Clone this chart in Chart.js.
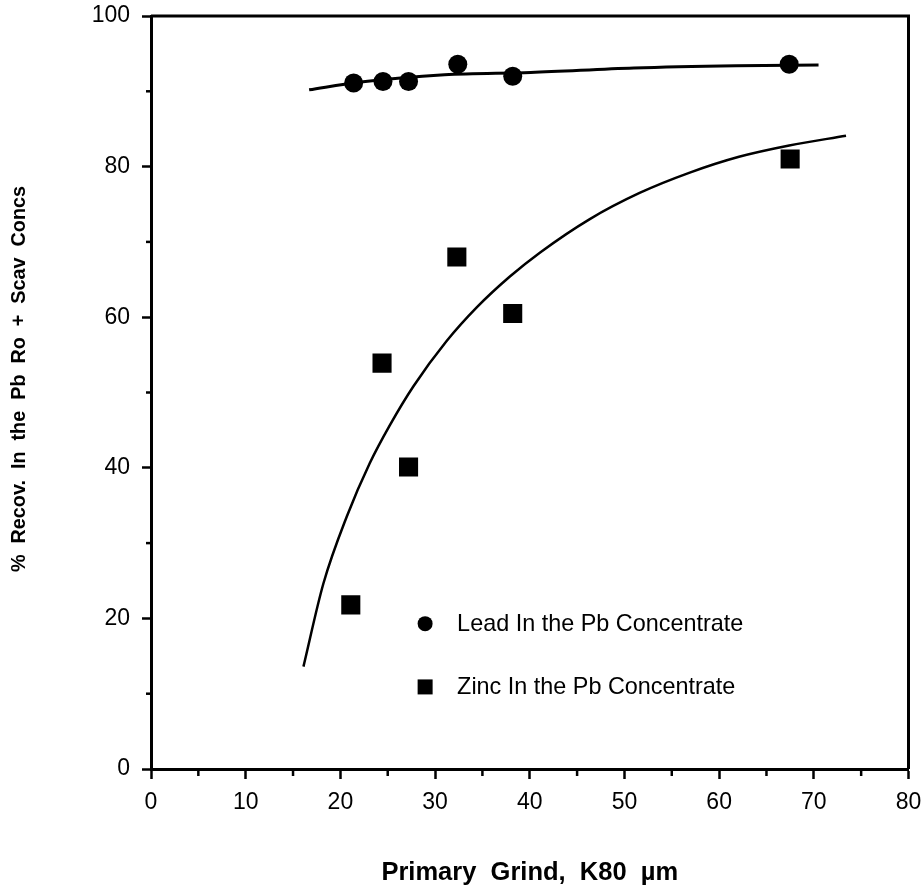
<!DOCTYPE html>
<html>
<head>
<meta charset="utf-8">
<script src="https://cdn.jsdelivr.net/npm/chart.js@4.4.1/dist/chart.umd.min.js"></script>
<style>
  html, body { margin: 0; padding: 0; background: #fff; }
  #wrap { width: 922px; height: 891px; }
</style>
</head>
<body>
<div id="wrap"><canvas id="chart" width="922" height="891"></canvas></div>
<script>
// measured points
const leadX = [21.4, 24.5, 27.2, 32.4, 38.2, 67.4];
const leadY = [91.1, 91.3, 91.3, 93.6, 92.0, 93.6];
const zincX = [21.1, 24.4, 27.2, 32.3, 38.2, 67.5];
const zincY = [21.8, 53.9, 40.1, 68.0, 60.5, 81.0];

// fitted curves
const leadFitX = [16.7, 21.9, 31.0, 40.1, 51.0, 61.8, 70.5];
const leadFitY = [90.2, 91.2, 92.2, 92.5, 93.1, 93.4, 93.5];
const zincFitX = [16.1, 18.2, 20.7, 23.1, 25.2, 27.7, 31.2, 34.4, 37.9, 41.1, 46.3, 51.6, 56.9, 62.1, 67.4, 73.4];
const zincFitY = [13.6, 24.6, 33.6, 40.6, 45.6, 50.8, 56.8, 61.3, 65.4, 68.6, 73.0, 76.5, 79.2, 81.3, 82.8, 84.1];

const xTicks = [0, 10, 20, 30, 40, 50, 60, 70, 80];
const yTicks = [0, 20, 40, 60, 80, 100];
const xMinor = [5, 15, 25, 35, 45, 55, 65, 75];
const yMinor = [10, 30, 50, 70, 90];

const legendItems = ['Lead In the Pb Concentrate', 'Zinc In the Pb Concentrate'];
const xTitle = 'Primary  Grind,  K80  µm';
const yTitle = '%  Recov.  In  the  Pb  Ro  +  Scav  Concs';

const FONT = "'Liberation Sans', Arial, Helvetica, sans-serif";

const toPts = (xs, ys) => xs.map((x, i) => ({ x: x, y: ys[i] }));

// top/right frame, minor ticks, y title and the legend
const extras = {
    id: 'extras',
    afterDraw(chart) {
        const ctx = chart.ctx;
        const a = chart.chartArea;
        const sx = chart.scales.x;
        const sy = chart.scales.y;
        ctx.save();
        ctx.strokeStyle = '#000';
        ctx.lineWidth = 3;
        ctx.beginPath();
        ctx.moveTo(a.left, a.top);
        ctx.lineTo(a.right, a.top);
        ctx.lineTo(a.right, a.bottom);
        ctx.stroke();

        ctx.lineWidth = 2.5;
        xMinor.forEach(v => {
            const px = sx.getPixelForValue(v);
            ctx.beginPath();
            ctx.moveTo(px, a.bottom);
            ctx.lineTo(px, a.bottom + 7);
            ctx.stroke();
        });
        yMinor.forEach(v => {
            const py = sy.getPixelForValue(v);
            ctx.beginPath();
            ctx.moveTo(a.left, py);
            ctx.lineTo(a.left - 5, py);
            ctx.stroke();
        });

        ctx.fillStyle = '#000';

        // y axis title
        ctx.save();
        ctx.translate(20, 379);
        ctx.rotate(-Math.PI / 2);
        ctx.font = 'bold 19.8px ' + FONT;
        ctx.textAlign = 'center';
        ctx.textBaseline = 'middle';
        ctx.fillText(yTitle, 0, 0);
        ctx.restore();

        // legend
        const lx = sx.getPixelForValue(28.95);
        const ly1 = sy.getPixelForValue(19.3);
        const ly2 = sy.getPixelForValue(10.9);
        ctx.beginPath();
        ctx.arc(lx, ly1, 7.5, 0, Math.PI * 2);
        ctx.fill();
        ctx.fillRect(lx - 7.5, ly2 - 7.5, 15, 15);
        ctx.font = '23.4px ' + FONT;
        ctx.textBaseline = 'middle';
        ctx.textAlign = 'left';
        ctx.fillText(legendItems[0], lx + 32, ly1 + 1);
        ctx.fillText(legendItems[1], lx + 32, ly2 + 1);
        ctx.restore();
    }
};

const ctx = document.getElementById('chart').getContext('2d');
const chart = new Chart(ctx, {
    type: 'scatter',
    data: {
        datasets: [{
            label: 'Lead fit',
            data: toPts(leadFitX, leadFitY),
            showLine: true,
            borderColor: '#000',
            borderWidth: 3,
            pointRadius: 0,
            cubicInterpolationMode: 'monotone',
            order: 3
        }, {
            label: 'Zinc fit',
            data: toPts(zincFitX, zincFitY),
            showLine: true,
            borderColor: '#000',
            borderWidth: 2.5,
            pointRadius: 0,
            cubicInterpolationMode: 'monotone',
            order: 4
        }, {
            label: legendItems[0],
            data: toPts(leadX, leadY),
            pointStyle: 'circle',
            pointRadius: 9.5,
            backgroundColor: '#000',
            borderWidth: 0,
            order: 1
        }, {
            label: legendItems[1],
            data: toPts(zincX, zincY),
            pointStyle: 'rect',
            pointRadius: 13.5,
            backgroundColor: '#000',
            borderWidth: 0,
            order: 2
        }]
    },
    options: {
        responsive: false,
        animation: false,
        layout: { padding: { left: 0, top: 16, right: 13, bottom: 0 } },
        plugins: {
            legend: { display: false },
            tooltip: { enabled: false }
        },
        scales: {
            x: {
                type: 'linear',
                min: 0,
                max: 80,
                afterFit: (scale) => {
                    scale.height = 122;
                    scale.paddingLeft = 0;
                    scale.paddingRight = 0;
                },
                afterBuildTicks: (scale) => { scale.ticks = xTicks.map(v => ({ value: v })); },
                border: { display: true, color: '#000', width: 3 },
                grid: { drawOnChartArea: false, drawTicks: true, tickLength: 10, tickWidth: 2.5, tickColor: '#000' },
                ticks: { color: '#000', font: { family: FONT, size: 23 }, padding: 10, maxRotation: 0 },
                title: {
                    display: true,
                    text: xTitle,
                    color: '#000',
                    font: { family: FONT, size: 25.5, weight: 'bold' },
                    padding: { top: 0, bottom: 3 }
                }
            },
            y: {
                type: 'linear',
                min: 0,
                max: 100,
                afterFit: (scale) => {
                    scale.width = 151;
                    scale.paddingTop = 0;
                    scale.paddingBottom = 0;
                },
                afterBuildTicks: (scale) => { scale.ticks = yTicks.map(v => ({ value: v })); },
                border: { display: true, color: '#000', width: 3 },
                grid: { drawOnChartArea: false, drawTicks: true, tickLength: 9, tickWidth: 2.5, tickColor: '#000' },
                ticks: { color: '#000', font: { family: FONT, size: 23 }, padding: 12 }
            }
        }
    },
    plugins: [extras]
});
</script>
</body>
</html>
